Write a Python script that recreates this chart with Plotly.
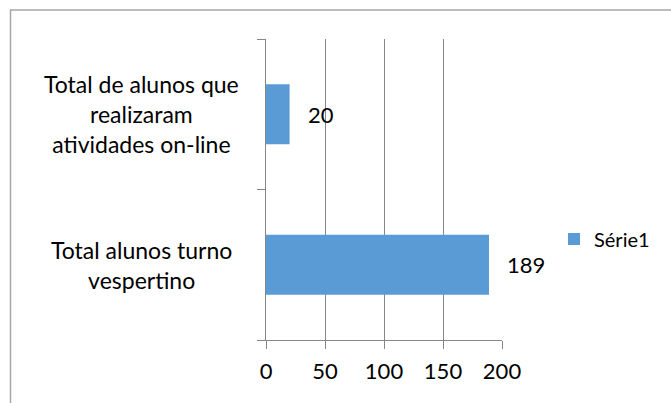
import plotly.graph_objects as go

categories = ["Total alunos turno<br>vespertino",
              "Total de alunos que<br>realizaram<br>atividades on-line"]
values = [189, 20]
series_name = "Série1"
x_ticks = [0, 50, 100, 150, 200]

W, H = 671, 403
L, R, T, B = 266, 502, 39, 340  # plot area in px
FONT = "Lato"
GRAY = "#868686"

fig = go.Figure()
fig.add_trace(go.Bar(
    y=categories, x=values, orientation="h", name=series_name,
    marker=dict(color="#5B9BD5", line=dict(width=0)), width=0.4,
))

pw = R - L
ph = B - T
def px_x(p):
    return (p - L) / pw
def px_y(p):
    return (B - p) / ph

# data labels
for v, c in zip(values, categories):
    fig.add_annotation(x=v, y=c, text=str(v), showarrow=False,
                       xanchor="left", yanchor="middle", xshift=16,
                       font=dict(family=FONT, size=22, color="#000"))

# centred category labels
for c in categories:
    fig.add_annotation(x=px_x(141), xref="paper", y=c, yref="y", text=c,
                       showarrow=False, xanchor="center", yanchor="middle",
                       align="center",
                       font=dict(family=FONT, size=23, color="#000"))

fig.add_shape(type="rect", xref="paper", yref="paper",
              x0=px_x(10.5), x1=px_x(700), y0=px_y(430), y1=px_y(10),
              line=dict(color="#A6A6A6", width=1.5), fillcolor="rgba(0,0,0,0)",
              layer="below")

fig.update_layout(
    width=W, height=H,
    margin=dict(l=L, r=W - R, t=T, b=H - B, pad=0),
    paper_bgcolor="white", plot_bgcolor="white",
    font=dict(family=FONT, size=20, color="#000"),
    showlegend=True,
    legend=dict(x=px_x(554), y=px_y(239), xanchor="left", yanchor="middle",
                font=dict(family=FONT, size=20, color="#000"),
                bgcolor="rgba(0,0,0,0)", itemwidth=30),
    bargap=0.6,
    xaxis=dict(range=[0, 200], tickvals=x_ticks, showgrid=True, gridcolor=GRAY,
               gridwidth=1, zeroline=False, showline=True, linecolor=GRAY,
               linewidth=1, ticks="outside", ticklen=8, tickcolor=GRAY,
               tickfont=dict(family=FONT, size=22), ticklabelstandoff=4,
               fixedrange=True),
    yaxis=dict(type="category", categoryorder="array", categoryarray=categories,
               showline=True, linecolor=GRAY, linewidth=1, ticks="outside",
               tickson="boundaries", ticklen=8, tickcolor=GRAY, showgrid=False,
               showticklabels=False),
)

fig.write_html("out.html")
